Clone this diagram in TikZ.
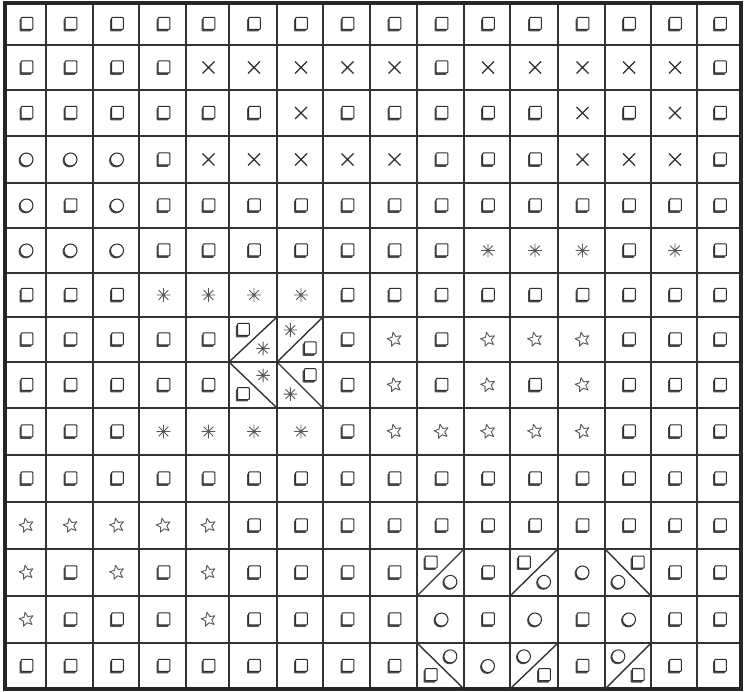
\documentclass[tikz,border=0pt]{standalone}
\begin{document}
\begin{tikzpicture}[x=1pt,y=-1pt]
\tikzset{
  gridline/.style={draw=black!80,line width=1.4pt},
  frameline/.style={draw=black!85,line width=3.4pt},
  symline/.style={draw=black!82,line width=1pt},
  lightsym/.style={draw=black!66,line width=0.9pt,line join=round},
  shadowfill/.style={fill=black!70}
}
\useasboundingbox (0,0) rectangle (747,692);
\fill[white] (0,0) rectangle (747,692);
\def\XL{{5,46,93,139,186,229,277,323,370,417,464,510,558,605,651,697,741}}
\def\YL{{3,45,90,136,183,228,273,317,362,408,455,502,549,596,643,689}}
% symbol macros (drawn at local origin)
\newcommand\symS{\fill[shadowfill,rounded corners=0.8pt] (-7,-5) rectangle (5,7.3);
  \filldraw[fill=white,symline,rounded corners=0.8pt] (-5.4,-6.6) rectangle (6.4,5.4);}
\newcommand\symO{\fill[shadowfill] (-0.9,0.9) circle (7);
  \filldraw[fill=white,symline] (0,0) circle (6.5);}
\newcommand\symX{\draw[symline,line width=1.1pt] (-6,-6) -- (6,6) (-6,6) -- (6,-6);}
\newcommand\symA{\draw[lightsym] (-6.8,0) -- (6.8,0) (0,-6.8) -- (0,6.8) (-4.8,-4.8) -- (4.8,4.8) (-4.8,4.8) -- (4.8,-4.8);}
\newcommand\symT{\draw[lightsym,rotate=12] (-90:7.4) -- (-54:3.3) -- (-18:7.4) -- (18:3.3) -- (54:7.4) -- (90:3.3) -- (126:7.4) -- (162:3.3) -- (198:7.4) -- (234:3.3) -- cycle;}
\newcommand\symN{}
% grid
\foreach \v in {46,93,139,186,229,277,323,370,417,464,510,558,605,651,697}
  \draw[gridline] (\v,3) -- (\v,689);
\foreach \v in {45,90,136,183,228,273,317,362,408,455,502,549,596,643}
  \draw[gridline] (5,\v) -- (741,\v);
\draw[frameline] (5,3) rectangle (741,689);
% diagonal cells
\newcommand\diagcell[5]{%
  \pgfmathtruncatemacro\ia{#2-1}\pgfmathtruncatemacro\ja{#1-1}%
  \pgfmathsetmacro\xa{\XL[\ia]}\pgfmathsetmacro\xb{\XL[#2]}%
  \pgfmathsetmacro\ya{\YL[\ja]}\pgfmathsetmacro\yb{\YL[#1]}%
  \pgfmathsetmacro\xp{\xa+0.29*(\xb-\xa)}\pgfmathsetmacro\xq{\xa+0.71*(\xb-\xa)}%
  \pgfmathsetmacro\yp{\ya+0.29*(\yb-\ya)}\pgfmathsetmacro\yq{\ya+0.70*(\yb-\ya)}%
  \if#3P
    \draw[gridline] (\xa,\yb) -- (\xb,\ya);
    \begin{scope}[shift={(\xp,\yp)}]\csname sym#4\endcsname\end{scope}
    \begin{scope}[shift={(\xq,\yq)}]\csname sym#5\endcsname\end{scope}
  \else
    \draw[gridline] (\xa,\ya) -- (\xb,\yb);
    \begin{scope}[shift={(\xq,\yp)}]\csname sym#4\endcsname\end{scope}
    \begin{scope}[shift={(\xp,\yq)}]\csname sym#5\endcsname\end{scope}
  \fi}
\diagcell{8}{6}{P}{S}{A}
\diagcell{8}{7}{P}{A}{S}
\diagcell{9}{6}{B}{A}{S}
\diagcell{9}{7}{B}{S}{A}
\diagcell{13}{10}{P}{S}{O}
\diagcell{13}{12}{P}{S}{O}
\diagcell{13}{14}{B}{S}{O}
\diagcell{15}{10}{B}{O}{S}
\diagcell{15}{12}{P}{O}{S}
\diagcell{15}{14}{P}{O}{S}
% plain cells
\foreach \row [count=\rr] in {
  {S,S,S,S,S,S,S,S,S,S,S,S,S,S,S,S},
  {S,S,S,S,X,X,X,X,X,S,X,X,X,X,X,S},
  {S,S,S,S,S,S,X,S,S,S,S,S,X,S,X,S},
  {O,O,O,S,X,X,X,X,X,S,S,S,X,X,X,S},
  {O,S,O,S,S,S,S,S,S,S,S,S,S,S,S,S},
  {O,O,O,S,S,S,S,S,S,S,A,A,A,S,A,S},
  {S,S,S,A,A,A,A,S,S,S,S,S,S,S,S,S},
  {S,S,S,S,S,N,N,S,T,S,T,T,T,S,S,S},
  {S,S,S,S,S,N,N,S,T,S,T,S,T,S,S,S},
  {S,S,S,A,A,A,A,S,T,T,T,T,T,S,S,S},
  {S,S,S,S,S,S,S,S,S,S,S,S,S,S,S,S},
  {T,T,T,T,T,S,S,S,S,S,S,S,S,S,S,S},
  {T,S,T,S,T,S,S,S,S,N,S,N,O,N,S,S},
  {T,S,S,S,T,S,S,S,S,O,S,O,S,O,S,S},
  {S,S,S,S,S,S,S,S,S,N,O,N,S,N,S,S}} {
  \foreach \s [count=\cc] in \row {
    \pgfmathtruncatemacro\ci{\cc-1}
    \pgfmathtruncatemacro\ri{\rr-1}
    \pgfmathsetmacro\xa{\XL[\ci]}
    \pgfmathsetmacro\xb{\XL[\cc]}
    \pgfmathsetmacro\ya{\YL[\ri]}
    \pgfmathsetmacro\yb{\YL[\rr]}
    \pgfmathsetmacro\cx{(\xa+\xb)/2+1}
    \pgfmathsetmacro\cy{(\ya+\yb)/2}
    \begin{scope}[shift={(\cx,\cy)}]\csname sym\s\endcsname\end{scope}
  }
}
\end{tikzpicture}
\end{document}
